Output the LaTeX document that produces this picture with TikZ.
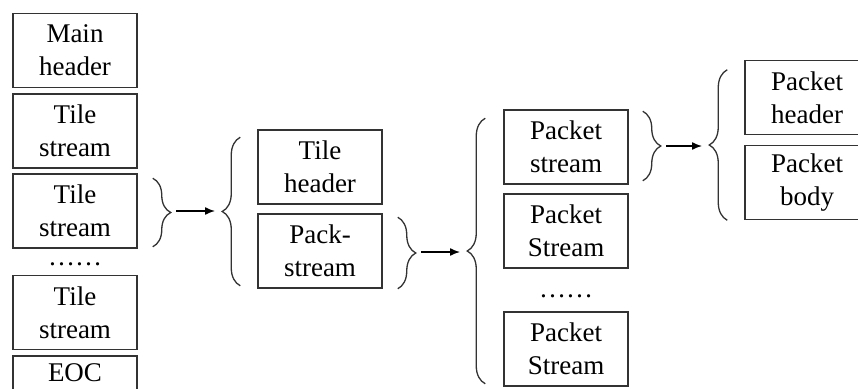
\documentclass[tikz,border=0pt]{standalone}
\usepackage{fontspec}
\setmainfont{Liberation Serif}
\usetikzlibrary{decorations.pathreplacing,arrows.meta}
\tikzset{
  field/.style={draw=black!80,line width=1.5pt,minimum width=124pt,minimum height=74pt,
    inner sep=0pt,align=center,font=\fontsize{27}{33}\selectfont},
  gap/.style={font=\fontsize{27}{33}\selectfont,anchor=base},
  curl/.style={decorate,decoration={brace,amplitude=18pt},line width=1.3pt,draw=black!80},
  into/.style={-{Latex[length=10pt,width=8pt]},line width=1.4pt,shorten <=6pt,shorten >=8pt}
}
\newcommand{\field}[5][]{\node [field,#1] (#2) at (#3,#4) {#5};}

\begin{document}
\begin{tikzpicture}[x=1pt,y=-1pt]
\useasboundingbox (0,0) rectangle (858,388);
\clip (0,0) rectangle (858,388);
% codestream
\field{mh}{75}{50.5}{Main\\header}
\field{ta}{75}{131}{Tile\\stream}
\field{tb}{75}{211}{Tile\\stream}
\node [gap] (da) at (75,265) {……};
\field{tc}{75}{312.5}{Tile\\stream}
\field[text depth=41pt]{eoc}{75}{393}{EOC}
% tile stream
\field{th}{320}{167}{Tile\\header}
\field{ps}{320}{251}{Pack-\\stream}
% pack-stream
\field{pa}{566}{147}{Packet\\stream}
\field{pb}{566}{231}{Packet\\Stream}
\node [gap] (db) at (566,297) {……};
\field{pc}{566}{349}{Packet\\Stream}
% packet
\field{ph}{807}{97.5}{Packet\\header}
\field{pd}{807}{182.5}{Packet\\body}
% braces
\draw [curl] ([shift={(15,5)}]tb.north east) -- ([shift={(15,-2)}]tb.south east);
\draw [curl] ([shift={(-17,-3)}]ps.south west) -- ([shift={(-17,8)}]th.north west);
\draw [curl] ([shift={(15,4)}]ps.north east) -- ([shift={(15,0)}]ps.south east);
\draw [curl] ([shift={(-18,-3)}]pc.south west) -- ([shift={(-18,9)}]pa.north west);
\draw [curl] ([shift={(14,2)}]pa.north east) -- ([shift={(14,-4)}]pa.south east);
\draw [curl] ([shift={(-17,0)}]pd.south west) -- ([shift={(-17,10)}]ph.north west);
% brace tips
\coordinate (ka) at (170,211);
\coordinate (kb) at (223,211);
\coordinate (kc) at (415,252);
\coordinate (kd) at (468,252);
\coordinate (ke) at (660,146);
\coordinate (kf) at (710,146);
\draw [into] (ka) -- (kb);
\draw [into] (kc) -- (kd);
\draw [into] (ke) -- (kf);
\end{tikzpicture}
\end{document}
